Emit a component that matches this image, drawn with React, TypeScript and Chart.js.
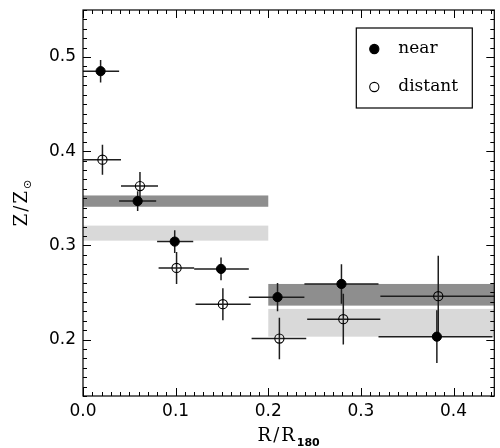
import React, { useEffect, useRef } from 'react';
import { Chart, registerables } from 'chart.js';

Chart.register(...registerables);

// ---- data ----
const xTicks = [0.0, 0.1, 0.2, 0.3, 0.4];
const yTicks = [0.2, 0.3, 0.4, 0.5];
const xMin = 0;
const xMax = 0.444;
const yMin = 0.14;
const yMax = 0.55;

const seriesLabels = ['near', 'distant'];

const nearX = [0.019, 0.059, 0.099, 0.149, 0.21, 0.279, 0.382];
const nearY = [0.485, 0.347, 0.304, 0.275, 0.245, 0.259, 0.203];
const nearXLo = [0.0, 0.039, 0.08, 0.12, 0.179, 0.239, 0.319];
const nearXHi = [0.039, 0.079, 0.119, 0.179, 0.239, 0.319, 0.442];
const nearYErr = [0.012, 0.0105, 0.012, 0.012, 0.015, 0.021, 0.028];

const distX = [0.021, 0.0615, 0.101, 0.151, 0.212, 0.281, 0.3835];
const distY = [0.391, 0.363, 0.276, 0.2375, 0.201, 0.2216, 0.246];
const distXLo = [0.0, 0.041, 0.0816, 0.1215, 0.182, 0.242, 0.321];
const distXHi = [0.041, 0.081, 0.12, 0.181, 0.241, 0.321, 0.45];
const distYErr = [0.016, 0.015, 0.017, 0.017, 0.022, 0.027, 0.043];

const nearBandXLo = [0.0, 0.2];
const nearBandXHi = [0.2, 0.444];
const nearBandYLo = [0.341, 0.236];
const nearBandYHi = [0.353, 0.259];

const distBandXLo = [0.0, 0.2];
const distBandXHi = [0.2, 0.444];
const distBandYLo = [0.305, 0.203];
const distBandYHi = [0.321, 0.2325];

// ---- styles ----
const NEAR_BAND = '#8e8e8e';
const DIST_BAND = '#d9d9d9';
const ERR_COLOR = '#1e1e1e';
const SERIF = '"DejaVu Serif", serif';
const SANS = '"DejaVu Sans", sans-serif';

const bandsAndErrors = {
  id: 'bandsAndErrors',
  beforeDatasetsDraw(chart: any) {
    const { ctx, chartArea: a, scales } = chart;
    const x = scales.x;
    const y = scales.y;
    ctx.save();
    ctx.beginPath();
    ctx.rect(a.left, a.top, a.right - a.left, a.bottom - a.top);
    ctx.clip();
    const band = (xl: number[], xh: number[], yl: number[], yh: number[], color: string) => {
      ctx.fillStyle = color;
      for (let i = 0; i < xl.length; i++) {
        const x0 = x.getPixelForValue(xl[i]);
        const x1 = x.getPixelForValue(xh[i]);
        const y0 = y.getPixelForValue(yh[i]);
        const y1 = y.getPixelForValue(yl[i]);
        ctx.fillRect(x0, y0, x1 - x0, y1 - y0);
      }
    };
    band(nearBandXLo, nearBandXHi, nearBandYLo, nearBandYHi, NEAR_BAND);
    band(distBandXLo, distBandXHi, distBandYLo, distBandYHi, DIST_BAND);

    const errs = (xs: number[], ys: number[], xl: number[], xh: number[], ye: number[]) => {
      ctx.strokeStyle = ERR_COLOR;
      ctx.lineWidth = 1.5;
      for (let i = 0; i < xs.length; i++) {
        const px = x.getPixelForValue(xs[i]);
        const py = y.getPixelForValue(ys[i]);
        ctx.beginPath();
        ctx.moveTo(x.getPixelForValue(xl[i]), py);
        ctx.lineTo(x.getPixelForValue(xh[i]), py);
        ctx.moveTo(px, y.getPixelForValue(ys[i] - ye[i]));
        ctx.lineTo(px, y.getPixelForValue(ys[i] + ye[i]));
        ctx.stroke();
      }
    };
    errs(nearX, nearY, nearXLo, nearXHi, nearYErr);
    errs(distX, distY, distXLo, distXHi, distYErr);
    ctx.restore();
  },
};

const frameAndDecor = {
  id: 'frameAndDecor',
  afterDraw(chart: any) {
    const { ctx, chartArea: a, scales } = chart;
    const x = scales.x;
    const y = scales.y;
    ctx.save();
    ctx.strokeStyle = '#000';
    ctx.lineWidth = 1.2;
    ctx.strokeRect(a.left, a.top, a.right - a.left, a.bottom - a.top);
    // ticks (inward)
    ctx.lineWidth = 1;
    ctx.beginPath();
    for (let i = Math.round(xMin * 100); i <= Math.floor(xMax * 100); i++) {
      const px = Math.round(x.getPixelForValue(i / 100)) + 0.5;
      const len = i % 10 === 0 ? 8 : 4;
      ctx.moveTo(px, a.bottom);
      ctx.lineTo(px, a.bottom - len);
      ctx.moveTo(px, a.top);
      ctx.lineTo(px, a.top + len);
    }
    for (let i = Math.round(yMin * 100); i <= Math.round(yMax * 100); i++) {
      const py = Math.round(y.getPixelForValue(i / 100)) + 0.5;
      const len = i % 10 === 0 ? 8 : 4;
      ctx.moveTo(a.left, py);
      ctx.lineTo(a.left + len, py);
      ctx.moveTo(a.right, py);
      ctx.lineTo(a.right - len, py);
    }
    ctx.stroke();

    // legend
    const bx = a.right - 138;
    const by = a.top + 18;
    ctx.lineWidth = 1.2;
    ctx.strokeRect(bx, by, 116, 80);
    chart.data.datasets.forEach((ds: any, i: number) => {
      const cy = by + 21 + i * 38;
      ctx.beginPath();
      ctx.arc(bx + 18, cy, 4.6, 0, Math.PI * 2);
      if (ds.backgroundColor !== 'rgba(0,0,0,0)') {
        ctx.fillStyle = ds.backgroundColor;
        ctx.fill();
      }
      ctx.strokeStyle = '#000';
      ctx.lineWidth = 1.1;
      ctx.stroke();
      ctx.fillStyle = '#000';
      ctx.font = `17px ${SERIF}`;
      ctx.textAlign = 'left';
      ctx.textBaseline = 'middle';
      ctx.fillText(ds.label, bx + 42, cy);
    });

    // x title R/R_180
    const cx = (a.left + a.right) / 2;
    ctx.fillStyle = '#000';
    ctx.textBaseline = 'alphabetic';
    ctx.textAlign = 'left';
    ctx.font = `18px ${SERIF}`;
    (ctx as any).letterSpacing = '2px';
    const main = 'R/R';
    const wMain = ctx.measureText(main).width;
    ctx.font = `bold 11px ${SANS}`;
    (ctx as any).letterSpacing = '0px';
    const sub = '180';
    const wSub = ctx.measureText(sub).width;
    const sx = cx - (wMain + wSub) / 2;
    ctx.font = `18px ${SERIF}`;
    (ctx as any).letterSpacing = '2px';
    ctx.fillText(main, sx, 441);
    ctx.font = `bold 11px ${SANS}`;
    (ctx as any).letterSpacing = '0px';
    ctx.fillText(sub, sx + wMain, 446);

    // y title Z/Z_sun
    const cy = (a.top + a.bottom) / 2;
    ctx.translate(27, cy);
    ctx.rotate(-Math.PI / 2);
    ctx.font = `18px ${SERIF}`;
    (ctx as any).letterSpacing = '2px';
    const ym = 'Z/Z';
    const wy = ctx.measureText(ym).width;
    ctx.font = `11px ${SANS}`;
    (ctx as any).letterSpacing = '0px';
    const ys = '\u2299';
    const wys = ctx.measureText(ys).width;
    const sy = -(wy + wys) / 2;
    ctx.font = `18px ${SERIF}`;
    (ctx as any).letterSpacing = '2px';
    ctx.fillText(ym, sy, 0);
    ctx.font = `11px ${SANS}`;
    (ctx as any).letterSpacing = '0px';
    ctx.fillText(ys, sy + wy, 4);
    ctx.restore();
  },
};

export default function App() {
  const ref = useRef<HTMLCanvasElement>(null);
  useEffect(() => {
    const canvas = ref.current;
    if (!canvas) return;
    const chart = new Chart(canvas, {
      type: 'scatter',
      data: {
        datasets: [
          {
            label: seriesLabels[0],
            data: nearX.map((v, i) => ({ x: v, y: nearY[i] })),
            backgroundColor: '#000',
            borderColor: '#000',
            pointRadius: 4.6,
            pointBorderWidth: 1,
          },
          {
            label: seriesLabels[1],
            data: distX.map((v, i) => ({ x: v, y: distY[i] })),
            backgroundColor: 'rgba(0,0,0,0)',
            borderColor: '#000',
            pointRadius: 4.6,
            pointBorderWidth: 1.1,
          },
        ],
      },
      options: {
        responsive: false,
        animation: false,
        events: [],
        layout: { padding: { top: 10, right: 5, left: 0, bottom: 0 } },
        plugins: { legend: { display: false }, tooltip: { enabled: false } },
        scales: {
          x: {
            type: 'linear',
            min: xMin,
            max: xMax,
            grid: { display: false, drawTicks: false },
            border: { display: false },
            afterBuildTicks: (s: any) => {
              s.ticks = xTicks.map((v) => ({ value: v }));
            },
            afterFit: (s: any) => {
              s.height = 52;
              s.paddingLeft = 0;
              s.paddingRight = 0;
            },
            ticks: {
              padding: 5,
              color: '#000',
              font: { family: 'DejaVu Sans', size: 17 },
              callback: (v: any) => Number(v).toFixed(1),
              maxRotation: 0,
            },
          },
          y: {
            type: 'linear',
            min: yMin,
            max: yMax,
            grid: { display: false, drawTicks: false },
            border: { display: false },
            afterBuildTicks: (s: any) => {
              s.ticks = yTicks.map((v) => ({ value: v }));
            },
            afterFit: (s: any) => {
              s.width = 83;
              s.paddingTop = 0;
              s.paddingBottom = 0;
            },
            ticks: {
              padding: 7,
              color: '#000',
              font: { family: 'DejaVu Sans', size: 17 },
              callback: (v: any) => Number(v).toFixed(1),
            },
          },
        },
      },
      plugins: [bandsAndErrors, frameAndDecor],
    } as any);
    return () => chart.destroy();
  }, []);
  return (
    <div style={{ position: 'fixed', left: 0, top: 0, width: 500, height: 448, background: '#fff' }}>
      <canvas ref={ref} width={500} height={448} style={{ display: 'block' }} />
    </div>
  );
}
